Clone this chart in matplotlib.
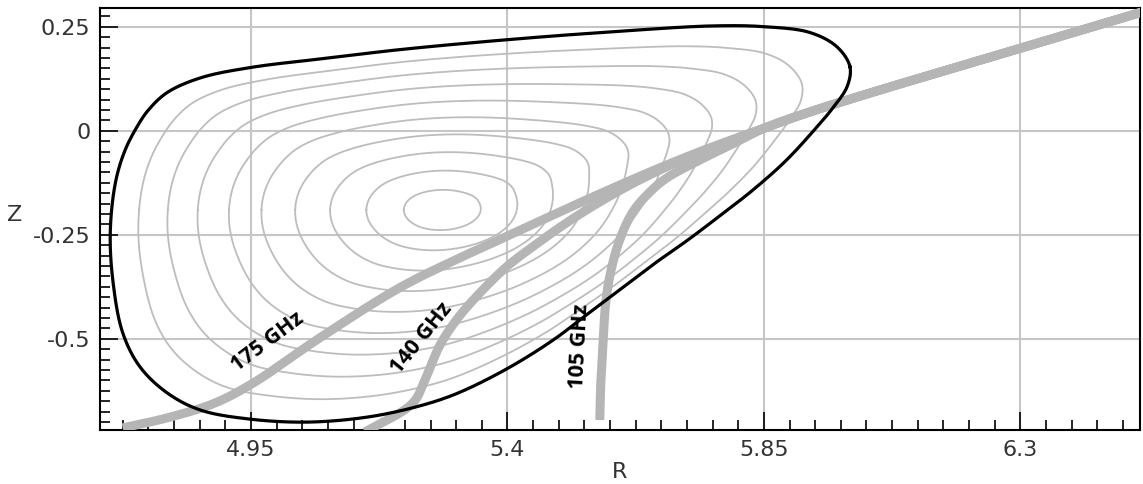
import numpy as np
import matplotlib.pyplot as plt
from matplotlib.ticker import MultipleLocator

# last closed flux surface (R, Z), counter-clockwise from the outboard tip
boundary_R = [6.001, 5.978, 5.931, 5.852, 5.761, 5.585, 5.401, 5.211, 5.094, 4.949,
              4.861, 4.803, 4.770, 4.748, 4.728, 4.712, 4.703, 4.708, 4.725, 4.755,
              4.803, 4.861, 4.949, 5.050, 5.154, 5.241, 5.310, 5.399, 5.480, 5.539,
              5.597, 5.655, 5.715, 5.773, 5.831, 5.890, 5.948, 5.971, 5.996]
boundary_Z = [0.154, 0.202, 0.236, 0.250, 0.252, 0.238, 0.219, 0.195, 0.176, 0.152,
              0.127, 0.092, 0.050, 0.005, -0.050, -0.125, -0.245, -0.365, -0.486, -0.567,
              -0.630, -0.671, -0.693, -0.700, -0.688, -0.663, -0.632, -0.572, -0.503, -0.442,
              -0.382, -0.322, -0.264, -0.204, -0.142, -0.070, 0.017, 0.055, 0.106]

# magnetic axis and inner flux surface levels (normalised radius)
axis_R, axis_Z = 5.286, -0.19
core_a, core_b = 0.69, 0.49
rho_levels = [0.1, 0.2, 0.3, 0.4, 0.5, 0.6, 0.7, 0.8, 0.9]

# ECRH ray paths
ray_175_R = [6.53, 5.948, 5.852, 5.738, 5.650, 5.527, 5.413, 5.317, 5.211, 5.068, 4.954, 4.887, 4.808, 4.725]
ray_175_Z = [0.292, 0.053, 0.007, -0.050, -0.099, -0.173, -0.245, -0.305, -0.377, -0.500, -0.606, -0.654, -0.688, -0.714]
ray_140_R = [6.53, 5.948, 5.852, 5.720, 5.632, 5.562, 5.505, 5.455, 5.400, 5.352, 5.313, 5.282, 5.255, 5.234, 5.150]
ray_140_Z = [0.292, 0.053, 0.007, -0.062, -0.118, -0.171, -0.220, -0.268, -0.325, -0.389, -0.450, -0.514, -0.599, -0.654, -0.724]
ray_105_R = [6.53, 5.948, 5.852, 5.799, 5.738, 5.680, 5.650, 5.620, 5.597, 5.582, 5.573, 5.568, 5.564, 5.562]
ray_105_Z = [0.292, 0.053, 0.007, -0.029, -0.070, -0.113, -0.147, -0.195, -0.262, -0.334, -0.406, -0.502, -0.599, -0.695]

ray_labels = ['175 GHz', '140 GHz', '105 GHz']
label_R = [4.980, 5.250, 5.527]
label_Z = [-0.507, -0.498, -0.519]
label_rot = [37, 51, 87]

r_ticks = [4.95, 5.4, 5.85, 6.3]
r_ticklabels = ['4.95', '5.4', '5.85', '6.3']
z_ticks = [-0.5, -0.25, 0, 0.25]
z_ticklabels = ['-0.5', '-0.25', '0', '0.25']

SR, SZ = 570.0, 416.0   # rough pixel scale, so the spline is not skewed


def smooth(x, y, n=24, closed=False):
    # centripetal Catmull-Rom through the read points
    P = np.column_stack([np.asarray(x) * SR, np.asarray(y) * SZ])
    if closed:
        P = np.vstack([P[-1], P, P[0], P[1]])
    else:
        P = np.vstack([2 * P[0] - P[1], P, 2 * P[-1] - P[-2]])
    out = []
    for i in range(1, len(P) - 2):
        p0, p1, p2, p3 = P[i - 1], P[i], P[i + 1], P[i + 2]
        t0 = 0.0
        t1 = t0 + np.hypot(*(p1 - p0)) ** 0.5
        t2 = t1 + np.hypot(*(p2 - p1)) ** 0.5
        t3 = t2 + np.hypot(*(p3 - p2)) ** 0.5
        t = np.linspace(t1, t2, n, endpoint=False)[:, None]
        a1 = (t1 - t) / (t1 - t0) * p0 + (t - t0) / (t1 - t0) * p1
        a2 = (t2 - t) / (t2 - t1) * p1 + (t - t1) / (t2 - t1) * p2
        a3 = (t3 - t) / (t3 - t2) * p2 + (t - t2) / (t3 - t2) * p3
        b1 = (t2 - t) / (t2 - t0) * a1 + (t - t0) / (t2 - t0) * a2
        b2 = (t3 - t) / (t3 - t1) * a2 + (t - t1) / (t3 - t1) * a3
        out.append((t2 - t) / (t2 - t1) * b1 + (t - t1) / (t2 - t1) * b2)
    out.append(P[-2][None])
    res = np.vstack(out)
    return res[:, 0] / SR, res[:, 1] / SZ


bR, bZ = smooth(boundary_R, boundary_Z, closed=True)

# boundary radius vs poloidal angle seen from the axis
phi = np.arctan2(bZ - axis_Z, bR - axis_R)
rb = np.hypot(bR - axis_R, bZ - axis_Z)
order = np.argsort(phi)
theta = np.linspace(-np.pi, np.pi, 721)
rb_t = np.interp(theta, phi[order], rb[order], period=2 * np.pi)
re_t = 1 / np.sqrt((np.cos(theta) / core_a) ** 2 + (np.sin(theta) / core_b) ** 2)

fig = plt.figure(figsize=(11.43, 4.84), dpi=100)
ax = fig.add_axes([100 / 1143, 1 - 430 / 484, 1040 / 1143, 422 / 484])

for rho in rho_levels:
    r = rho * ((1 - rho) * re_t + rho * rb_t)
    ax.plot(axis_R + r * np.cos(theta), axis_Z + r * np.sin(theta),
            color='#bdbdbd', lw=1.3, zorder=2)

for rr, zz in [(ray_175_R, ray_175_Z), (ray_140_R, ray_140_Z), (ray_105_R, ray_105_Z)]:
    sr, sz = smooth(rr, zz)
    ax.plot(sr, sz, color='#b5b5b5', lw=6.5, solid_capstyle='butt', zorder=3)

ax.plot(bR, bZ, color='black', lw=2.3, zorder=4)

for txt, x, y, rot in zip(ray_labels, label_R, label_Z, label_rot):
    ax.text(x, y, txt, rotation=rot, rotation_mode='anchor', ha='center', va='center',
            fontsize=15.5, fontweight='bold', family=['Open Sans', 'DejaVu Sans'],
            color='black', zorder=5)

ax.set_xlim(4.685, 6.51)
ax.set_ylim(-0.719, 0.295)

ax.set_xticks(r_ticks)
ax.set_xticklabels(r_ticklabels)
ax.set_yticks(z_ticks)
ax.set_yticklabels(z_ticklabels)
ax.xaxis.set_minor_locator(MultipleLocator(0.045))
ax.yaxis.set_minor_locator(MultipleLocator(0.025))
ax.tick_params(which='both', direction='in', top=False, right=False,
               color='black', width=1.2, labelsize=16, labelcolor='#333333')
ax.tick_params(which='major', length=13, pad=7)
ax.tick_params(which='minor', length=7)
ax.grid(which='major', color='#c6c6c6', lw=1.5, zorder=0)
ax.set_axisbelow(True)
for s in ax.spines.values():
    s.set_color('black')
    s.set_linewidth(1.5)

ax.set_xlabel('R', fontsize=16, color='#333333')
ax.set_ylabel('Z', fontsize=16, color='#333333', rotation=0, va='center', ha='center')
ax.xaxis.set_label_coords(0.5, -0.075)
ax.yaxis.set_label_coords(-0.082, 0.51)

fig.savefig('out.png', dpi=100, facecolor='white')
